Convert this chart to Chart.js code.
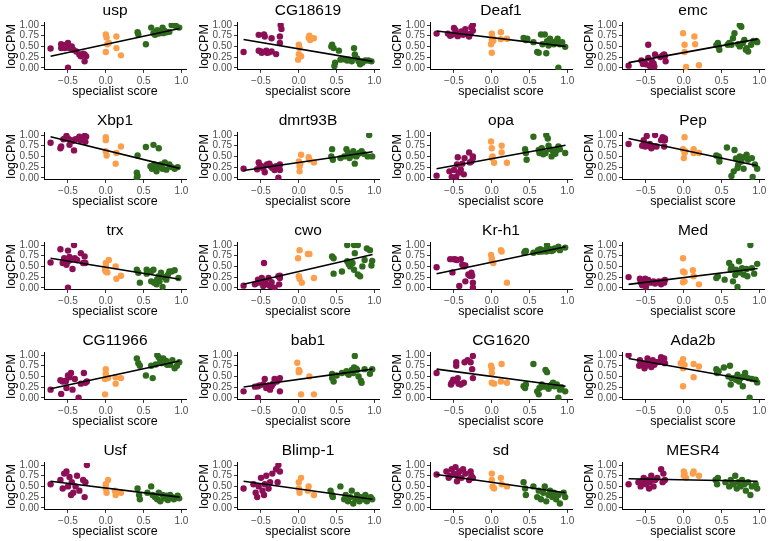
<!DOCTYPE html>
<html>
<head>
<meta charset="utf-8">
<script src="https://cdn.jsdelivr.net/npm/chart.js@4/dist/chart.umd.min.js"></script>
<style>
  body { margin: 0; background: #fff; }
  #grid { position: relative; width: 771px; height: 541px; overflow: hidden; }
  #grid canvas { position: absolute; }
</style>
</head>
<body>
<div id="grid"></div>
<script>
// gene panels, in reading order
const genes = ["usp", "CG18619", "Deaf1", "emc", "Xbp1", "dmrt93B", "opa", "Pep",
  "trx", "cwo", "Kr-h1", "Med", "CG11966", "bab1", "CG1620", "Ada2b",
  "Usf", "Blimp-1", "sd", "MESR4"];

// [specialist score, logCPM] per sample
const usp = [[-0.73,0.45],[-0.59,0.55],[-0.59,0.46],[-0.54,0.46],[-0.52,0.54],[-0.5,0.58],[-0.48,0.46],[-0.43,0.42],[-0.39,0.38],[-0.35,0.31],[-0.33,0.27],[-0.3,0.33],[-0.28,0.31],[-0.26,0.27],[-0.28,0.15],[-0.5,0.0],[-0.45,0.5],
  [0,0.78],[0.01,0.71],[0.04,0.58],[0,0.37],[0.14,0.73],[0.14,0.46],[0.2,0.29],[0.02,0.55],
  [0.42,0.83],[0.43,0.78],[0.53,0.55],[0.6,0.94],[0.63,0.81],[0.65,0.77],[0.68,0.88],[0.72,0.85],[0.75,0.94],[0.76,0.81],[0.8,0.83],[0.87,1.0],[0.89,1.0],[0.91,1.0],[0.97,0.94],[0.78,0.86],[0.7,0.8],[0.84,0.84],[0.66,0.84],[0.93,0.97]];
const cg18619 = [[-0.73,0.37],[-0.53,0.77],[-0.53,0.4],[-0.49,0.35],[-0.46,0.78],[-0.45,0.73],[-0.43,0.4],[-0.42,0.35],[-0.36,0.69],[-0.36,0.38],[-0.3,0.32],[-0.25,0.73],[-0.25,0.58],[-0.24,1.0],[-0.23,0.91],[-0.5,0.38],[-0.4,0.36],
  [0,0.54],[0.01,0.46],[0,0.32],[0.03,0.27],[-0.01,0.19],[0.14,0.75],[0.15,0.65],[0.2,0.69],[0.13,0.7],
  [0.44,0.54],[0.46,0.46],[0.48,0.12],[0.47,0.04],[0.53,0.4],[0.55,0.19],[0.73,0.46],[0.74,0.31],[0.66,0.19],[0.7,0.15],[0.77,0.22],[0.79,0.15],[0.83,0.15],[0.88,0.17],[0.92,0.17],[0.96,0.15],[0.81,0.08],[0.84,0.12],[0.64,0.17],[0.43,0.5],[0.6,0.2]];
const deaf1 = [[-0.73,0.8],[-0.58,0.8],[-0.55,0.75],[-0.52,0.78],[-0.5,0.93],[-0.48,0.88],[-0.46,0.78],[-0.45,0.74],[-0.42,0.8],[-0.4,0.85],[-0.38,0.77],[-0.35,0.9],[-0.32,0.78],[-0.28,0.8],[-0.27,0.95],[-0.25,1.0],[-0.25,0.87],[-0.3,0.73],
  [0,0.8],[0.01,0.7],[0,0.65],[-0.01,0.55],[0,0.35],[0.02,0.63],[0.12,0.83],[0.12,0.67],[0.2,0.68],
  [0.42,0.7],[0.45,0.65],[0.47,0.68],[0.55,0.6],[0.6,0.37],[0.62,0.35],[0.65,0.78],[0.67,0.55],[0.7,0.78],[0.72,0.34],[0.73,0.62],[0.75,0.52],[0.77,0.68],[0.78,0.57],[0.8,0.6],[0.82,0.55],[0.85,0.62],[0.87,0.68],[0.88,0.0],[0.9,0.55],[0.97,0.49],[0.93,0.6]];
const emc = [[-0.73,0.05],[-0.56,0.17],[-0.54,0.09],[-0.5,0.08],[-0.47,0.54],[-0.47,0.23],[-0.45,0.04],[-0.42,0.15],[-0.39,0.03],[-0.38,0.31],[-0.31,0.25],[-0.28,0.29],[-0.26,0.31],[-0.25,0.27],[-0.24,0.15],[-0.4,0.1],[-0.52,0.12],
  [-0.01,0.81],[0.01,0.54],[0.01,0.37],[0.03,0.02],[0.14,0.73],[0.15,0.55],[0.2,0.06],
  [0.45,0.58],[0.46,0.5],[0.47,0.42],[0.58,0.54],[0.63,0.54],[0.65,0.69],[0.67,0.81],[0.74,1.0],[0.76,0.96],[0.72,0.55],[0.74,0.5],[0.8,0.65],[0.82,0.42],[0.85,0.38],[0.83,0.46],[0.92,0.63],[0.96,0.63],[0.97,0.6],[0.89,0.54],[0.78,0.58],[0.6,0.58],[0.43,0.53]];
const xbp1 = [[-0.73,0.82],[-0.6,0.69],[-0.59,0.73],[-0.54,0.92],[-0.52,0.98],[-0.5,0.92],[-0.48,0.77],[-0.46,0.88],[-0.42,0.64],[-0.4,0.9],[-0.35,0.96],[-0.33,0.87],[-0.28,0.98],[-0.27,0.84],[-0.26,0.96],[-0.56,0.9],[-0.44,0.86],
  [0,0.95],[0,0.88],[0,0.62],[0.01,0.52],[0.14,0.58],[0.13,0.33],[0.2,0.73],
  [0.42,0.52],[0.41,0.12],[0.42,0.04],[0.41,0.0],[0.53,0.72],[0.63,0.77],[0.7,0.69],[0.59,0.27],[0.61,0.21],[0.64,0.31],[0.67,0.15],[0.7,0.25],[0.73,0.31],[0.75,0.21],[0.78,0.36],[0.8,0.19],[0.84,0.31],[0.87,0.25],[0.91,0.21],[0.95,0.25],[0.66,0.28]];
const dmrt93b = [[-0.73,0.21],[-0.53,0.36],[-0.52,0.25],[-0.49,0.27],[-0.45,0.13],[-0.42,0.31],[-0.39,0.33],[-0.37,0.27],[-0.35,0.23],[-0.32,0.18],[-0.3,0.27],[-0.27,0.0],[-0.26,0.25],[-0.25,0.18],[-0.25,0.31],[-0.47,0.22],[-0.55,0.2],
  [0,0.38],[0.01,0.27],[0.01,0.15],[0.03,0.54],[0.13,0.48],[0.14,0.42],[0.2,0.36],[0.02,0.33],
  [0.44,0.67],[0.43,0.5],[0.45,0.42],[0.55,0.46],[0.63,0.67],[0.65,0.58],[0.67,0.46],[0.72,0.62],[0.74,0.33],[0.76,0.5],[0.8,0.58],[0.83,0.62],[0.91,0.5],[0.93,1.0],[0.97,0.5],[0.78,0.55],[0.7,0.52],[0.6,0.5],[0.86,0.56]];
const opa = [[-0.73,0.05],[-0.56,0.15],[-0.53,0.02],[-0.5,0.18],[-0.47,0.02],[-0.46,0.31],[-0.45,0.48],[-0.44,0.12],[-0.41,0.19],[-0.37,0.08],[-0.36,0.46],[-0.3,0.59],[-0.27,0.38],[-0.25,0.5],[-0.25,0.46],[-0.29,0.36],[-0.39,0.33],
  [-0.01,0.85],[0,0.69],[0.01,0.5],[0,0.46],[0.03,0.35],[0.13,0.75],[0.13,0.59],[0.2,0.35],
  [0.44,0.67],[0.45,0.58],[0.46,0.42],[0.55,0.96],[0.62,0.65],[0.63,0.58],[0.66,0.69],[0.72,1.0],[0.74,0.92],[0.71,0.58],[0.75,0.75],[0.77,0.67],[0.79,0.5],[0.81,0.62],[0.86,0.65],[0.88,0.73],[0.9,0.67],[0.97,0.58],[0.68,0.55],[0.84,0.56]];
const pep = [[-0.73,0.79],[-0.53,0.88],[-0.53,0.79],[-0.49,0.98],[-0.51,0.73],[-0.47,0.75],[-0.45,0.79],[-0.43,0.69],[-0.4,0.73],[-0.38,1.0],[-0.36,0.73],[-0.3,0.88],[-0.28,0.95],[-0.25,0.92],[-0.26,0.73],[-0.25,0.88],[-0.55,0.75],
  [0.01,0.95],[-0.01,0.67],[0.01,0.58],[0,0.46],[0.13,0.67],[0.13,0.58],[0.2,0.58],[0.02,0.62],
  [0.46,0.5],[0.47,0.46],[0.47,0.38],[0.57,0.71],[0.63,0.04],[0.66,0.15],[0.67,0.65],[0.72,0.31],[0.71,0.23],[0.74,0.5],[0.76,0.38],[0.79,0.21],[0.83,0.54],[0.85,0.42],[0.9,0.46],[0.91,0.02],[0.94,0.31],[0.97,0.21],[0.69,0.45],[0.8,0.48],[0.43,0.52]];
const trx = [[-0.73,0.59],[-0.6,0.9],[-0.57,0.58],[-0.55,0.69],[-0.52,0.54],[-0.5,0.87],[-0.5,0.62],[-0.47,0.65],[-0.48,0.72],[-0.44,0.44],[-0.42,1.0],[-0.41,0.69],[-0.38,0.65],[-0.33,0.81],[-0.3,0.58],[-0.28,0.73],[-0.27,0.58],[-0.5,0.0],
  [0,0.58],[0,0.5],[0,0.38],[0.02,0.36],[0.04,0.65],[0.13,0.5],[0.14,0.21],[0.2,0.28],[-0.01,0.42],
  [0.41,0.42],[0.43,0.35],[0.45,0.12],[0.54,0.42],[0.54,0.33],[0.6,0.38],[0.63,0.42],[0.6,0.15],[0.64,0.12],[0.67,0.08],[0.7,0.27],[0.71,0.15],[0.73,0.35],[0.75,0.02],[0.77,0.25],[0.8,0.19],[0.84,0.38],[0.87,0.38],[0.91,0.41],[0.96,0.23],[0.82,0.3],[0.68,0.2]];
const cwo = [[-0.73,0.05],[-0.58,0.08],[-0.54,0.19],[-0.49,0.23],[-0.46,0.58],[-0.47,0.04],[-0.45,0.15],[-0.43,0.08],[-0.4,0.23],[-0.38,0.04],[-0.36,0.13],[-0.32,0.0],[-0.27,0.27],[-0.25,0.23],[-0.25,0.28],[-0.26,0.08],[-0.52,0.12],
  [0.01,0.88],[-0.01,0.69],[0,0.27],[0.01,0.21],[0.04,0.12],[0.12,0.79],[0.14,0.79],[0.2,0.23],
  [0.44,0.73],[0.46,0.69],[0.46,0.33],[0.57,0.38],[0.64,1.0],[0.64,0.62],[0.68,0.5],[0.71,0.58],[0.73,1.0],[0.73,0.42],[0.74,0.81],[0.78,1.0],[0.78,0.31],[0.81,0.27],[0.84,0.5],[0.87,0.65],[0.9,0.92],[0.94,0.88],[0.96,0.52],[0.97,0.63],[0.66,0.55]];
const krh1 = [[-0.73,0.48],[-0.55,0.67],[-0.5,0.67],[-0.48,0.66],[-0.52,0.36],[-0.46,0.65],[-0.43,0.04],[-0.41,0.67],[-0.39,0.54],[-0.37,0.5],[-0.35,0.15],[-0.31,0.31],[-0.29,0.28],[-0.27,0.35],[-0.26,0.28],[-0.25,0.12],[-0.25,0.0],[-0.35,0.52],
  [-0.01,0.77],[0,0.69],[0,0.63],[0.02,0.58],[0.12,0.88],[0.13,0.85],[0.2,0.12],
  [0.44,0.85],[0.45,0.86],[0.55,0.82],[0.61,0.88],[0.64,0.9],[0.66,0.85],[0.7,0.88],[0.73,1.0],[0.75,0.87],[0.77,0.9],[0.81,0.88],[0.83,0.92],[0.88,0.96],[0.9,0.88],[0.97,0.94],[0.72,0.85],[0.62,0.84],[0.68,0.86],[0.79,0.86],[0.43,0.82]];
const med = [[-0.73,0.25],[-0.58,0.21],[-0.57,0.13],[-0.53,0.08],[-0.51,0.21],[-0.5,0.02],[-0.49,0.12],[-0.47,0.18],[-0.44,0.12],[-0.4,0.15],[-0.38,0.1],[-0.33,0.15],[-0.3,0.08],[-0.28,0.15],[-0.26,0.12],[-0.25,0.18],[-0.55,0.06],
  [-0.01,0.69],[-0.01,0.38],[0.01,0.36],[-0.01,0.13],[0.01,0.15],[0.12,0.41],[0.13,0.27],[0.2,0.08],
  [0.43,0.23],[0.45,0.27],[0.54,0.19],[0.6,0.58],[0.63,0.5],[0.65,0.15],[0.69,0.42],[0.71,0.02],[0.73,0.62],[0.74,0.36],[0.77,0.46],[0.79,0.31],[0.83,0.44],[0.84,0.27],[0.88,1.0],[0.9,0.46],[0.93,0.33],[0.97,0.56],[0.68,0.3],[0.62,0.42]];
const cg11966 = [[-0.73,0.19],[-0.6,0.41],[-0.59,0.09],[-0.57,0.38],[-0.53,0.38],[-0.52,0.23],[-0.5,0.52],[-0.48,0.48],[-0.46,0.58],[-0.44,0.19],[-0.41,0.44],[-0.36,0.0],[-0.33,0.33],[-0.29,0.58],[-0.27,0.35],[-0.25,0.38],[-0.53,0.4],
  [0,0.67],[0,0.56],[-0.01,0.44],[0.03,0.46],[-0.01,0.08],[0.13,0.48],[0.13,0.33],[0.2,0.46],
  [0.41,0.92],[0.43,0.81],[0.45,0.75],[0.53,0.52],[0.6,0.75],[0.62,0.46],[0.68,1.0],[0.7,0.95],[0.72,0.88],[0.74,0.81],[0.76,0.92],[0.78,0.85],[0.81,0.77],[0.85,0.77],[0.88,0.88],[0.91,0.69],[0.94,0.75],[0.97,0.83],[0.8,0.86],[0.66,0.78]];
const bab1 = [[-0.73,0.15],[-0.54,0.27],[-0.54,0.0],[-0.52,0.29],[-0.47,0.31],[-0.45,0.44],[-0.43,0.23],[-0.4,0.29],[-0.38,0.19],[-0.36,0.27],[-0.32,0.44],[-0.29,0.38],[-0.27,0.42],[-0.25,0.15],[-0.25,0.46],[-0.34,0.33],[-0.58,0.26],
  [-0.02,0.82],[0,0.65],[0,0.6],[0.03,0.08],[0.14,0.5],[0.2,0.08],[0.01,0.62],
  [0.44,0.56],[0.44,0.46],[0.46,0.38],[0.57,0.58],[0.63,0.62],[0.66,0.54],[0.7,0.65],[0.73,0.71],[0.74,0.98],[0.72,0.58],[0.77,0.65],[0.79,0.5],[0.82,0.4],[0.83,0.35],[0.87,0.67],[0.94,0.56],[0.97,0.67],[0.64,0.58],[0.76,0.68],[0.5,0.52]];
const cg1620 = [[-0.73,0.58],[-0.54,0.31],[-0.53,0.35],[-0.51,0.42],[-0.47,0.83],[-0.47,0.75],[-0.45,0.46],[-0.44,0.33],[-0.41,0.31],[-0.37,0.35],[-0.36,0.83],[-0.32,0.88],[-0.28,0.83],[-0.26,0.67],[-0.25,0.98],[-0.25,0.46],[-0.49,0.4],
  [-0.01,0.75],[0,0.69],[0,0.58],[0,0.35],[0.03,0.33],[0.13,0.79],[0.12,0.38],[0.2,0.35],
  [0.42,0.27],[0.44,0.23],[0.45,0.31],[0.55,0.79],[0.6,0.15],[0.62,0.08],[0.63,0.23],[0.66,0.31],[0.71,0.65],[0.73,0.6],[0.75,0.21],[0.79,0.31],[0.81,0.35],[0.83,0.27],[0.86,0.31],[0.88,0.0],[0.9,0.19],[0.92,0.25],[0.97,0.15],[0.77,0.27],[0.69,0.26]];
const ada2b = [[-0.73,1.0],[-0.59,0.75],[-0.58,0.88],[-0.54,0.81],[-0.52,0.69],[-0.48,0.92],[-0.46,0.81],[-0.43,0.72],[-0.41,0.88],[-0.39,0.77],[-0.36,0.83],[-0.32,0.85],[-0.3,0.95],[-0.28,0.9],[-0.26,0.92],[-0.25,0.81],[-0.5,0.75],
  [-0.04,0.81],[-0.01,0.9],[-0.01,0.69],[0.01,0.77],[-0.01,0.27],[0.13,0.79],[0.13,0.48],[0.2,0.73],
  [0.43,0.67],[0.44,0.58],[0.46,0.62],[0.53,0.71],[0.59,0.5],[0.61,0.75],[0.62,0.31],[0.63,0.46],[0.69,0.42],[0.71,0.54],[0.73,0.38],[0.75,0.46],[0.78,0.27],[0.79,0.5],[0.81,0.58],[0.85,0.46],[0.87,0.0],[0.9,0.44],[0.95,0.42],[0.97,0.36],[0.67,0.46]];
const usf = [[-0.73,0.55],[-0.6,0.65],[-0.57,0.45],[-0.55,0.8],[-0.52,0.85],[-0.5,0.5],[-0.48,0.72],[-0.45,0.6],[-0.43,0.35],[-0.4,0.5],[-0.38,0.75],[-0.35,0.4],[-0.3,0.65],[-0.28,0.25],[-0.27,0.6],[-0.25,1.0],[-0.46,0.3],
  [0,0.55],[0,0.45],[0.01,0.35],[0.03,0.65],[0.12,0.4],[0.13,0.3],[0.2,0.35],
  [0.42,0.45],[0.44,0.3],[0.45,0.2],[0.55,0.35],[0.6,0.5],[0.62,0.3],[0.65,0.25],[0.68,0.2],[0.7,0.35],[0.72,0.15],[0.75,0.3],[0.77,0.22],[0.8,0.28],[0.82,0.18],[0.85,0.3],[0.88,0.25],[0.9,0.2],[0.95,0.28],[0.97,0.22]];
const blimp1 = [[-0.73,0.45],[-0.6,0.55],[-0.57,0.35],[-0.53,0.5],[-0.5,0.7],[-0.48,0.4],[-0.45,0.55],[-0.43,0.75],[-0.4,0.45],[-0.38,0.6],[-0.35,0.8],[-0.3,0.9],[-0.28,0.6],[-0.27,1.0],[-0.25,0.85],[-0.46,0.3],[-0.55,0.25],
  [0,0.6],[0,0.45],[0.01,0.35],[0.03,0.7],[0.12,0.4],[0.13,0.5],[0.2,0.3],
  [0.42,0.4],[0.44,0.3],[0.45,0.25],[0.55,0.5],[0.6,0.2],[0.62,0.3],[0.65,0.15],[0.68,0.25],[0.7,0.4],[0.72,0.1],[0.75,0.2],[0.77,0.3],[0.8,0.15],[0.82,0.25],[0.85,0.2],[0.88,0.3],[0.9,0.15],[0.95,0.25],[0.97,0.2]];
const sd = [[-0.73,0.78],[-0.6,0.85],[-0.57,0.7],[-0.53,0.9],[-0.5,0.8],[-0.48,0.95],[-0.45,0.75],[-0.43,0.85],[-0.4,0.7],[-0.38,0.9],[-0.35,0.8],[-0.3,0.65],[-0.28,0.85],[-0.27,0.75],[-0.25,0.7],[-0.46,0.62],[-0.55,0.75],
  [0,0.8],[0,0.65],[0.01,0.5],[0.03,0.45],[0.12,0.7],[0.13,0.55],[0.2,0.5],
  [0.42,0.6],[0.44,0.45],[0.45,0.3],[0.55,0.5],[0.6,0.25],[0.62,0.4],[0.65,0.2],[0.68,0.35],[0.7,0.5],[0.72,0.15],[0.75,0.3],[0.77,0.4],[0.8,0.25],[0.82,0.35],[0.85,0.2],[0.88,0.3],[0.9,0.1],[0.95,0.35],[0.97,0.25]];
const mesr4 = [[-0.73,0.55],[-0.6,0.6],[-0.57,0.5],[-0.53,0.7],[-0.5,0.55],[-0.48,0.65],[-0.45,0.6],[-0.43,0.75],[-0.4,0.5],[-0.38,0.65],[-0.35,0.7],[-0.3,0.9],[-0.28,0.6],[-0.27,0.8],[-0.25,0.65],[-0.46,0.45],[-0.55,0.62],
  [0,0.85],[0,0.75],[0.01,0.8],[0.03,0.7],[0.12,0.8],[0.13,0.85],[0.2,0.75],
  [0.42,0.65],[0.44,0.55],[0.45,0.7],[0.55,0.6],[0.6,0.5],[0.62,0.65],[0.65,0.55],[0.68,0.75],[0.7,0.45],[0.72,0.6],[0.75,0.5],[0.77,0.65],[0.8,0.55],[0.82,0.4],[0.85,0.6],[0.88,0.3],[0.9,0.5],[0.95,0.55],[0.97,0.45]];

const samples = [usp, cg18619, deaf1, emc, xbp1, dmrt93b, opa, pep, trx, cwo, krh1, med,
  cg11966, bab1, cg1620, ada2b, usf, blimp1, sd, mesr4];

// fitted line (lm) value at the left and right end of the data
const fitLeft  = [0.27, 0.66, 0.86, 0.12, 0.96, 0.17, 0.21, 0.92, 0.69, 0.08, 0.33, 0.08, 0.21, 0.25, 0.67, 0.92, 0.62, 0.62, 0.78, 0.68];
const fitRight = [0.92, 0.15, 0.50, 0.67, 0.22, 0.61, 0.76, 0.28, 0.20, 0.78, 0.96, 0.45, 0.86, 0.67, 0.27, 0.38, 0.25, 0.20, 0.35, 0.62];
const fitX = [-0.73, 0.975];

const xTicks = [-0.5, 0, 0.5, 1];
const yTicks = [0, 0.25, 0.5, 0.75, 1];

const FONT = "'Liberation Sans', Arial, Helvetica, sans-serif";
const COLORS = ["#8C0F55", "#FD9E4A", "#2E6B1C"];
Chart.defaults.font.family = FONT;

function groupOf(p) {
  return p[0] < -0.1 ? 0 : p[0] < 0.3 ? 1 : 2;
}
function fmtX(v) {
  return (v < 0 ? "\u2212" : "") + Math.abs(v).toFixed(1);
}

const grid = document.getElementById("grid");

genes.forEach((name, i) => {
  const col = i % 4, row = Math.floor(i / 4);
  const cv = document.createElement("canvas");
  cv.width = 193;
  cv.height = 111;
  cv.style.left = Math.round(col * 192.75) + "px";
  cv.style.top = row * 110 + "px";
  grid.appendChild(cv);

  const pts = samples[i];
  const pointSets = [0, 1, 2].map((g) => ({
    type: "scatter",
    data: pts.filter((p) => groupOf(p) === g).map((p) => ({ x: p[0], y: p[1] })),
    backgroundColor: COLORS[g],
    borderWidth: 0,
    pointRadius: 3.2,
    order: 1,
  }));

  new Chart(cv, {
    type: "scatter",
    data: {
      datasets: [
        {
          type: "line",
          data: [
            { x: fitX[0], y: fitLeft[i] },
            { x: fitX[1], y: fitRight[i] },
          ],
          borderColor: "#000",
          borderWidth: 1.6,
          pointRadius: 0,
          fill: false,
          order: 0,
        },
        ...pointSets,
      ],
    },
    options: {
      responsive: false,
      animation: false,
      events: [],
      layout: { padding: { left: 0, right: 7, top: 0, bottom: 0 } },
      plugins: {
        legend: { display: false },
        tooltip: { enabled: false },
        title: {
          display: true,
          text: name,
          fullSize: false,
          color: "#000",
          font: { size: 15.5, weight: "normal", lineHeight: 1.2 },
          padding: { top: 1, bottom: 3.3 },
        },
      },
      scales: {
        x: {
          type: "linear",
          min: -0.817,
          max: 1.06,
          afterBuildTicks: (s) => { s.ticks = xTicks.map((v) => ({ value: v })); },
          afterFit: (s) => { s.height = 41.1; },
          ticks: {
            callback: (v) => fmtX(v),
            color: "#4D4D4D",
            font: { size: 10 },
            padding: 2.5,
            maxRotation: 0,
            autoSkip: false,
          },
          grid: { display: true, drawOnChartArea: false, drawTicks: true, tickLength: 3, color: "#333", lineWidth: 1 },
          border: { display: true, color: "#000", width: 1 },
          title: {
            display: true,
            text: "specialist score",
            color: "#000",
            font: { size: 12.5, lineHeight: 1.2 },
            padding: { top: 0, bottom: 12 },
          },
        },
        y: {
          type: "linear",
          min: -0.05,
          max: 1.05,
          afterBuildTicks: (s) => { s.ticks = yTicks.map((v) => ({ value: v })); },
          afterFit: (s) => { s.width = 44; },
          ticks: {
            callback: (v) => v.toFixed(2),
            color: "#4D4D4D",
            font: { size: 10 },
            padding: 2,
            autoSkip: false,
          },
          grid: { display: true, drawOnChartArea: false, drawTicks: true, tickLength: 3, color: "#333", lineWidth: 1 },
          border: { display: true, color: "#000", width: 1 },
          title: {
            display: true,
            text: "logCPM",
            color: "#000",
            font: { size: 12.5, lineHeight: 1.2 },
            padding: { top: 4.5, bottom: 0 },
          },
        },
      },
    },
  });
});
</script>
</body>
</html>
